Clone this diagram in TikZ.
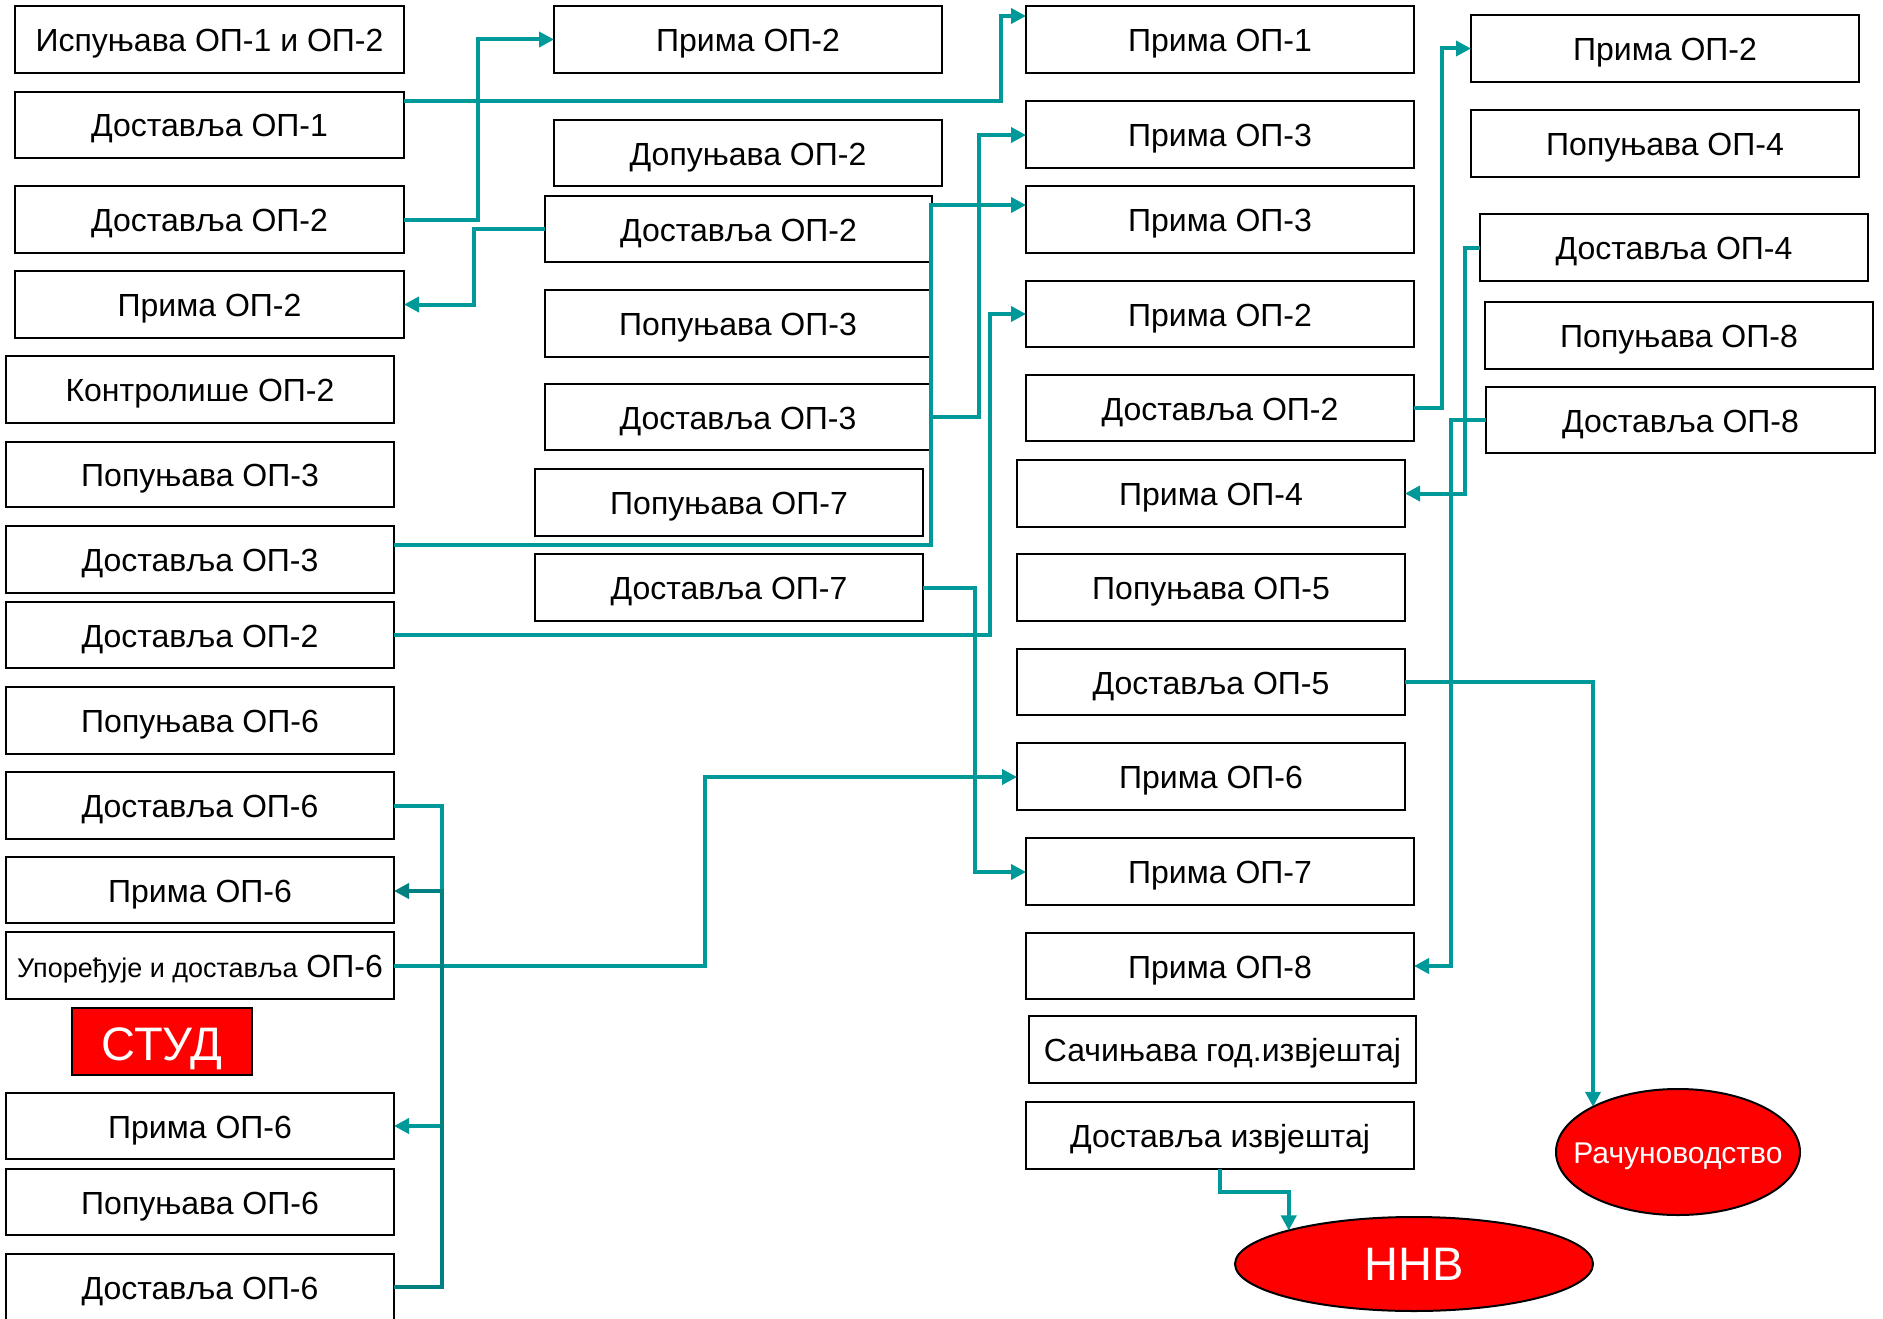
\documentclass[tikz,border=0pt]{standalone}
\usepackage{fontspec}
\setmainfont{Liberation Sans}
\usetikzlibrary{arrows.meta,shapes.geometric}
\definecolor{tl}{HTML}{009999}
\definecolor{tdk}{HTML}{008080}
\definecolor{rd}{HTML}{FF0000}
\newcommand\bx[6]{\node[box,minimum width={(#4-#2)*1pt},minimum height={(#5-#3)*1pt}] (#1) at ({(#2+#4)/2},{(#3+#5)/2}) {#6};}
\begin{document}
\begin{tikzpicture}[x=1pt,y=-1pt,
  box/.style={draw=black,line width=2pt,rectangle,inner sep=0pt,outer sep=0pt,fill=white,font=\fontsize{32}{36}\selectfont,text height=28pt,text depth=4pt},
  redbox/.style={box,fill=rd,text=white,font=\fontsize{47}{52}\selectfont,text height=40pt,text depth=3pt},
  oval/.style={ellipse,draw=black,line width=2pt,fill=rd,text=white,inner sep=0pt,outer sep=0pt},
  conn/.style={color=tl,line width=4pt,-{Triangle[length=15pt,width=15pt]}},
]
\useasboundingbox (0,0) rectangle (1883,1319);
% column 1
\bx{a1}{15}{6}{404}{73}{Испуњава ОП-1 и ОП-2}
\bx{a2}{15}{92}{404}{158}{Доставља ОП-1}
\bx{a3}{15}{186}{404}{253}{Доставља ОП-2}
\bx{a4}{15}{271}{404}{338}{Прима ОП-2}
\bx{a5}{6}{356}{394}{423}{Контролише ОП-2}
\bx{a6}{6}{442}{394}{507}{Попуњава ОП-3}
\bx{a7}{6}{526}{394}{593}{Доставља ОП-3}
\bx{a8}{6}{602}{394}{668}{Доставља ОП-2}
\bx{a9}{6}{687}{394}{754}{Попуњава ОП-6}
\bx{a10}{6}{772}{394}{839}{Доставља ОП-6}
\bx{a11}{6}{857}{394}{923}{Прима ОП-6}
\bx{a12}{6}{932}{394}{999}{{\fontsize{27}{30}\selectfont Упоређује и доставља} ОП-6}
\node[redbox,minimum width=180pt,minimum height=67pt] (stud) at (162,1041.5) {СТУД};
\bx{a13}{6}{1093}{394}{1159}{Прима ОП-6}
\bx{a14}{6}{1169}{394}{1235}{Попуњава ОП-6}
\bx{a15}{6}{1254}{394}{1321}{Доставља ОП-6}
% column 2
\bx{b1}{554}{6}{942}{73}{Прима ОП-2}
\bx{b2}{554}{120}{942}{186}{Допуњава ОП-2}
\bx{b3}{545}{196}{932}{262}{Доставља ОП-2}
\bx{b4}{545}{290}{931}{357}{Попуњава ОП-3}
\bx{b5}{545}{384}{931}{450}{Доставља ОП-3}
\bx{b6}{535}{469}{923}{536}{Попуњава ОП-7}
\bx{b7}{535}{554}{923}{621}{Доставља ОП-7}
% column 3
\bx{c1}{1026}{6}{1414}{73}{Прима ОП-1}
\bx{c2}{1026}{101}{1414}{168}{Прима ОП-3}
\bx{c3}{1026}{186}{1414}{253}{Прима ОП-3}
\bx{c4}{1026}{281}{1414}{347}{Прима ОП-2}
\bx{c5}{1026}{375}{1414}{441}{Доставља ОП-2}
\bx{c6}{1017}{460}{1405}{527}{Прима ОП-4}
\bx{c7}{1017}{554}{1405}{621}{Попуњава ОП-5}
\bx{c8}{1017}{649}{1405}{715}{Доставља ОП-5}
\bx{c9}{1017}{743}{1405}{810}{Прима ОП-6}
\bx{c10}{1026}{838}{1414}{905}{Прима ОП-7}
\bx{c11}{1026}{933}{1414}{999}{Прима ОП-8}
\bx{c12}{1029}{1016}{1416}{1083}{Сачињава год.извјештај}
\bx{c13}{1026}{1102}{1414}{1169}{Доставља извјештај}
% column 4
\bx{d1}{1471}{15}{1859}{82}{Прима ОП-2}
\bx{d2}{1471}{110}{1859}{177}{Попуњава ОП-4}
\bx{d3}{1480}{214}{1868}{281}{Доставља ОП-4}
\bx{d4}{1485}{302}{1873}{369}{Попуњава ОП-8}
\bx{d5}{1486}{387}{1875}{453}{Доставља ОП-8}
% ovals
\node[oval,minimum width=244pt,minimum height=126pt,font=\fontsize{30}{34}\selectfont,text height=22pt,text depth=0pt] (rac) at (1678,1152) {\makebox[0pt]{Рачуноводство}};
\node[oval,minimum width=358pt,minimum height=94pt,font=\fontsize{47}{50}\selectfont] (nnv) at (1414,1264) {\makebox[0pt]{ННВ}};
% connectors
\draw[conn] (a2.east |- 0,101) -- (1001,101) -- (1001,16) -- (c1.west |- 0,16);
\draw[conn] (a3.east) -- (478,219.5) -- (478,39.5) -- (b1.west);
\draw[conn] (b3.west) -- (474,229) -- (474,304.5) -- (a4.east);
\draw[conn] (a7.east |- 0,545) -- (931,545) -- (931,205) -- (c3.west |- 0,205);
\draw[conn] (b5.east |- 0,417) -- (979,417) -- (979,135) -- (c2.west |- 0,135);
\draw[conn] (a8.east) -- (990,635) -- (990,314) -- (c4.west);
\draw[conn] (b7.east |- 0,588) -- (975,588) -- (975,872) -- (c10.west |- 0,872);
\draw[conn] (a12.east |- 0,966) -- (705,966) -- (705,777) -- (c9.west |- 0,777);
\draw[conn] (a10.east |- 0,806) -- (442,806) -- (442,1126) -- (a13.east);
\draw[conn,color=tdk] (a15.east |- 0,1287) -- (442,1287) -- (442,891) -- (a11.east |- 0,891);
\draw[conn] (c5.east |- 0,408) -- (1442,408) -- (1442,48.5) -- (d1.west);
\draw[conn] (d3.west) -- (1465,247.5) -- (1465,493.5) -- (c6.east);
\draw[conn] (d5.west) -- (1451,420) -- (1451,966) -- (c11.east);
\draw[conn] (c8.east |- 0,682) -| (rac.152);
\draw[conn] (c13.south) -- (1220,1192) -| (nnv.165);
\end{tikzpicture}
\end{document}
